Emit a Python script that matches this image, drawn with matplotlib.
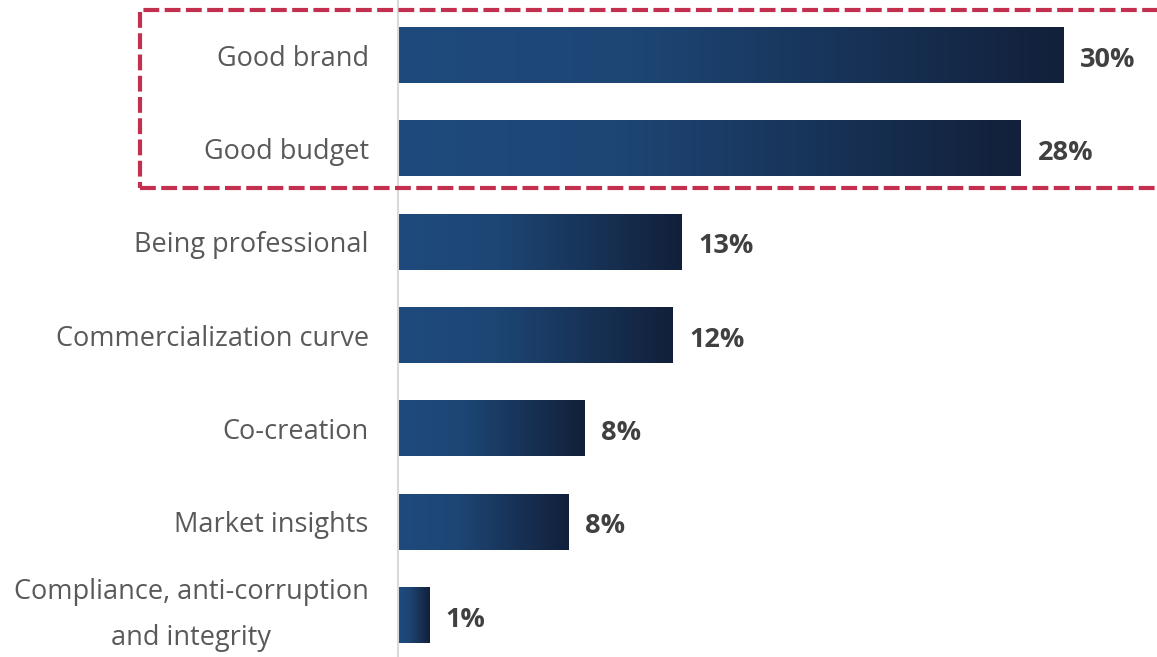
import numpy as np
import matplotlib
matplotlib.use("Agg")
import matplotlib.pyplot as plt
from matplotlib.colors import LinearSegmentedColormap
from matplotlib.patches import Rectangle

categories = [
    "Good brand",
    "Good budget",
    "Being professional",
    "Commercialization curve",
    "Co-creation",
    "Market insights",
    "Compliance, anti-corruption\nand integrity",
]
shares = [30.0, 28.1, 12.8, 12.4, 8.4, 7.7, 1.4]

plt.rcParams["font.family"] = ["Open Sans", "DejaVu Sans"]

fig = plt.figure(figsize=(11.57, 6.57), dpi=100)
ax = fig.add_axes([398 / 1157, 0, 759 / 1157, 1])

bar_cmap = LinearSegmentedColormap.from_list(
    "bar", [(0.0, "#1F4A7D"), (0.35, "#1D4675"), (1.0, "#12203A")]
)
grad = np.linspace(0, 1, 256).reshape(1, -1)
bar_h = 0.6

for i, v in enumerate(shares):
    ax.imshow(grad, cmap=bar_cmap, aspect="auto", interpolation="bilinear",
              extent=(0, v, i + bar_h / 2, i - bar_h / 2), zorder=2)
    ax.text(v + 0.75, i + 0.05, f"{v:.0f}%", ha="left", va="center",
            fontsize=19.5, fontweight="bold", color="#404040")

ax.set_xlim(0, 759 / 22.17)
ax.set_ylim(6.45, -0.59)
ax.set_yticks(range(len(categories)))
ax.set_yticklabels(categories, fontsize=19.5, color="#595959",
                   linespacing=1.9)
for lbl in ax.get_yticklabels():
    lbl.set_horizontalalignment("right")
    lbl.set_multialignment("center")
    if "\n" in lbl.get_text():
        lbl.set_verticalalignment("center")
ax.tick_params(axis="y", length=0, pad=21)
ax.set_xticks([])
for side in ("top", "right", "bottom"):
    ax.spines[side].set_visible(False)
ax.spines["left"].set_color("#D9D9D9")
ax.spines["left"].set_linewidth(1.5)

# dashed frame around the two leading categories
box = Rectangle((140 / 1157, 1 - 188 / 657), 1.2, (188 - 10) / 657,
                transform=fig.transFigure, fill=False, edgecolor="#C3304F",
                linewidth=3.0, linestyle=(0, (3.8, 1.3)), zorder=5, clip_on=False)
fig.patches.append(box)

fig.savefig("out.png", dpi=100)
